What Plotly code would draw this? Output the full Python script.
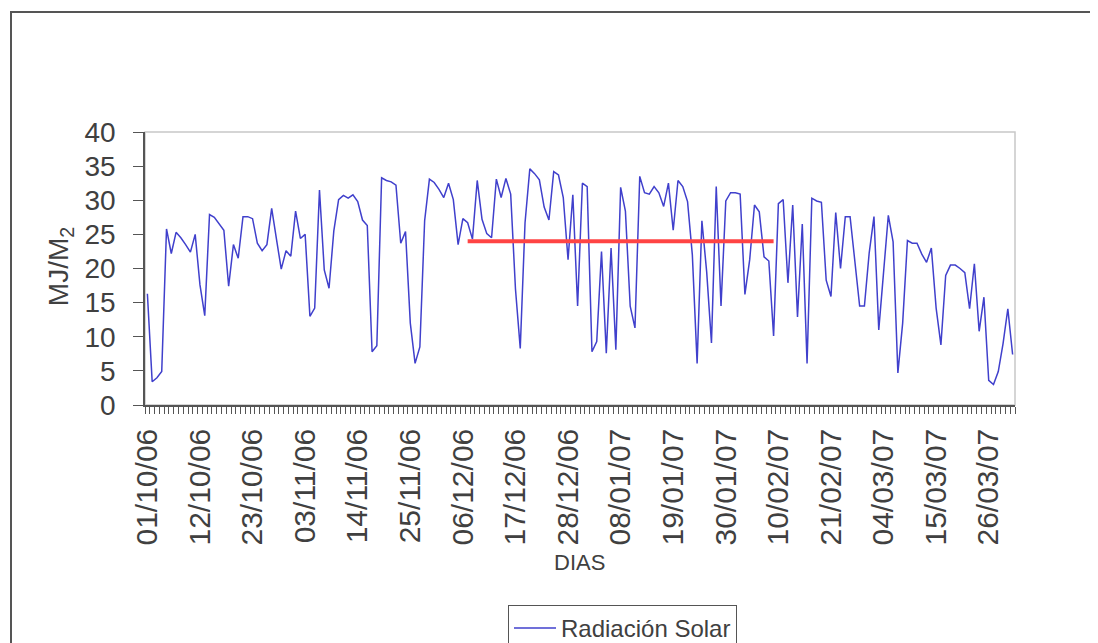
import pandas as pd
import plotly.graph_objects as go

# Categories: one per day, 01/10/06 .. 31/03/07
dias = [d.strftime("%d/%m/%y") for d in pd.date_range("2006-10-01", "2007-03-31", freq="D")]

# Daily solar radiation (MJ/m2)
radiacion = [
    16.3, 3.4, 4.0, 4.9, 25.8, 22.2, 25.3, 24.5, 23.5, 22.4,
    25.0, 17.6, 13.1, 27.9, 27.5, 26.6, 25.6, 17.4, 23.5, 21.5,
    27.6, 27.6, 27.3, 23.7, 22.6, 23.5, 28.8, 24.3, 19.9, 22.6,
    21.8, 28.4, 24.4, 25.0, 13.0, 14.2, 31.5, 19.8, 17.1, 25.5,
    30.1, 30.7, 30.3, 30.8, 29.8, 27.1, 26.3, 7.8, 8.7, 33.3,
    32.9, 32.7, 32.2, 23.7, 25.4, 12.0, 6.1, 8.5, 27.0, 33.1,
    32.6, 31.6, 30.4, 32.5, 30.1, 23.5, 27.3, 26.7, 24.3, 32.9,
    27.2, 25.1, 24.5, 33.1, 30.4, 33.2, 30.9, 17.0, 8.3, 26.7,
    34.6, 33.9, 33.0, 29.0, 27.1, 34.2, 33.7, 30.4, 21.3, 30.8,
    14.5, 32.5, 32.0, 7.8, 9.3, 22.5, 7.6, 23.0, 8.1, 31.9,
    28.4, 14.5, 11.3, 33.5, 31.1, 30.9, 32.0, 31.1, 29.1, 32.5,
    25.6, 32.9, 32.0, 29.8, 22.0, 6.1, 27.0, 19.5, 9.1, 32.0,
    14.5, 29.9, 31.1, 31.1, 30.9, 16.2, 21.3, 29.3, 28.3, 21.7,
    21.1, 10.1, 29.5, 30.1, 17.9, 29.3, 12.9, 26.5, 6.1, 30.3,
    29.9, 29.7, 18.3, 15.9, 28.2, 20.0, 27.6, 27.6, 21.3, 14.5,
    14.5, 22.3, 27.6, 11.0, 19.4, 27.8, 23.9, 4.7, 12.0, 24.1,
    23.7, 23.7, 22.1, 20.9, 23.0, 14.2, 8.8, 19.0, 20.5, 20.5,
    20.0, 19.4, 14.1, 20.7, 10.8, 15.8, 3.6, 3.0, 4.9, 9.0,
    14.1, 7.4,
]

# Reference (average) line
linea_x = ["07/12/06", "09/02/07"]
linea_y = [24.0, 24.0]

# Tick labels every 11 days
tick_text = [d if i % 11 == 0 else "" for i, d in enumerate(dias)]

FONT = "Arial, Liberation Sans, sans-serif"
TXT = "#404040"

W, H = 1090, 635
L, T, PW, PH = 137, 124, 870, 273

fig = go.Figure()
fig.add_trace(go.Scatter(
    x=dias, y=radiacion, mode="lines", name="Radiación Solar",
    line=dict(color="#4040CC", width=1.5),
))
fig.add_trace(go.Scatter(
    x=linea_x, y=linea_y, mode="lines", showlegend=False,
    line=dict(color="#FF4444", width=4),
))

fig.update_layout(
    width=W, height=H,
    margin=dict(l=L, r=W - L - PW, t=T, b=H - T - PH, pad=0, autoexpand=False),
    paper_bgcolor="white", plot_bgcolor="white",
    font=dict(family=FONT, color=TXT),
    showlegend=True,
    legend=dict(
        x=(500 - L) / PW, xanchor="left", y=-(597 - T - PH) / PH, yanchor="top",
        bordercolor="#555555", borderwidth=1, bgcolor="white",
        font=dict(size=24, color=TXT, family=FONT),
        itemwidth=42,
    ),
    xaxis=dict(
        type="category", categoryorder="array", categoryarray=dias,
        tickmode="array", tickvals=dias, ticktext=tick_text,
        tickangle=-90, tickson="boundaries",
        ticks="outside", ticklen=7, tickcolor="#555555", tickwidth=1,
        tickfont=dict(size=30, color=TXT, family=FONT),
        ticklabelstandoff=10,
        showline=True, linecolor="#555555", linewidth=1.5,
        showgrid=False, zeroline=False, automargin=False,
        range=[-0.5, len(dias) - 0.5],
    ),
    yaxis=dict(
        range=[0, 40], dtick=5, tick0=0,
        ticks="outside", ticklen=10, tickcolor="#555555",
        tickfont=dict(size=28, color=TXT, family=FONT),
        ticklabelstandoff=12,
        showline=True, linecolor="#555555", linewidth=1.5,
        showgrid=False, zeroline=False, automargin=False,
    ),
    shapes=[
        dict(type="rect", xref="paper", yref="paper", x0=0, x1=1, y0=0, y1=1,
             line=dict(color="#c8c8c8", width=1.5), layer="below"),
        dict(type="rect", xref="paper", yref="paper",
             x0=(3 - L) / PW, x1=(1110 - L) / PW,
             y0=-(660 - T - PH) / PH, y1=(T + PH - 4) / PH,
             line=dict(color="#555555", width=2), layer="above"),
    ],
    annotations=[
        dict(text="MJ/M<sub>2</sub>", xref="paper", yref="paper",
             x=(52 - L) / PW, y=0.505, textangle=-90, showarrow=False,
             xanchor="center", yanchor="middle",
             font=dict(size=28, color=TXT, family=FONT)),
        dict(text="DIAS", xref="paper", yref="paper",
             x=(571 - L) / PW, y=-(554 - T - PH) / PH, showarrow=False,
             xanchor="center", yanchor="middle",
             font=dict(size=22, color=TXT, family=FONT)),
    ],
)

fig.write_html("out.html")
